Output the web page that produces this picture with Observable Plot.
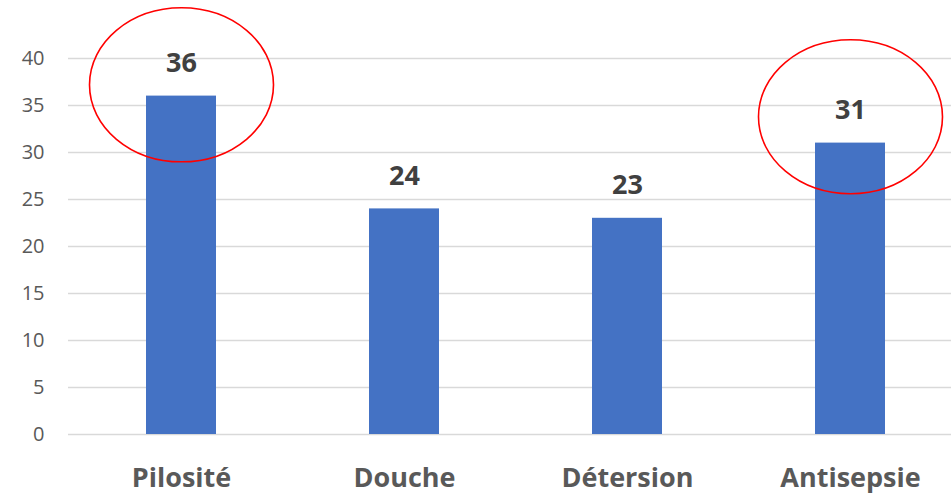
<!DOCTYPE html>
<html>
<head>
<meta charset="utf-8">
<script src="https://cdn.jsdelivr.net/npm/d3@7"></script>
<script src="https://cdn.jsdelivr.net/npm/@observablehq/plot@0.6"></script>
<style>
  html, body { margin: 0; padding: 0; background: #fff; }
  #chart svg { display: block; }
</style>
</head>
<body>
<div id="chart"></div>
<script>
// Data
const categories = ["Pilosité", "Douche", "Détersion", "Antisepsie"];
const values = [36, 24, 23, 31];
const yTicks = [0, 5, 10, 15, 20, 25, 30, 35, 40];
// Highlight ellipses (category, centre value on the y scale)
const highlightCategories = ["Pilosité", "Antisepsie"];
const highlightCenters = [37.2, 33.8];

const data = categories.map((c, i) => ({category: c, value: values[i]}));
const highlights = highlightCategories.map((c, i) => ({category: c, center: highlightCenters[i]}));

// Ellipse symbol (horizontal radius from size, vertical = ratio * horizontal)
const ELLIPSE_RATIO = 77 / 92;
const ellipseSymbol = {
  draw(context, size) {
    const rx = Math.sqrt(size / Math.PI);
    const ry = rx * ELLIPSE_RATIO;
    const k = 0.5522847498;
    context.moveTo(rx, 0);
    context.bezierCurveTo(rx, ry * k, rx * k, ry, 0, ry);
    context.bezierCurveTo(-rx * k, ry, -rx, ry * k, -rx, 0);
    context.bezierCurveTo(-rx, -ry * k, -rx * k, -ry, 0, -ry);
    context.bezierCurveTo(rx * k, -ry, rx, -ry * k, rx, 0);
    context.closePath();
  }
};

const chart = Plot.plot({
  width: 951,
  height: 494,
  marginTop: 58,
  marginBottom: 60,
  marginLeft: 68,
  marginRight: 0,
  style: {fontFamily: "'Open Sans', sans-serif", background: "#fff"},
  x: {
    domain: categories,
    range: [68, 962],
    paddingInner: 0.687,
    paddingOuter: 0.344,
    label: null
  },
  y: {
    domain: [0, 40],
    ticks: yTicks,
    label: null
  },
  marks: [
    Plot.ruleY(yTicks, {stroke: "#d9d9d9", strokeWidth: 1.3}),
    Plot.barY(data, {x: "category", y: "value", fill: "#4472c4"}),
    Plot.text(data, {
      x: "category", y: "value", text: d => String(d.value),
      dy: -33, fontSize: 27, fontWeight: "bold", fill: "#404040"
    }),
    Plot.dot(highlights, {
      x: "category", y: "center", r: 92, symbol: ellipseSymbol,
      fill: "none", stroke: "#ff0000", strokeWidth: 1.6
    }),
    Plot.axisY({
      ticks: yTicks, tickSize: 0, tickPadding: 24,
      fontSize: 20, fill: "#595959", label: null
    }),
    Plot.axisX({
      tickSize: 0, tickPadding: 33, fontSize: 27, fontWeight: "bold",
      fill: "#595959", label: null
    })
  ]
});

document.getElementById("chart").appendChild(chart);
</script>
</body>
</html>
